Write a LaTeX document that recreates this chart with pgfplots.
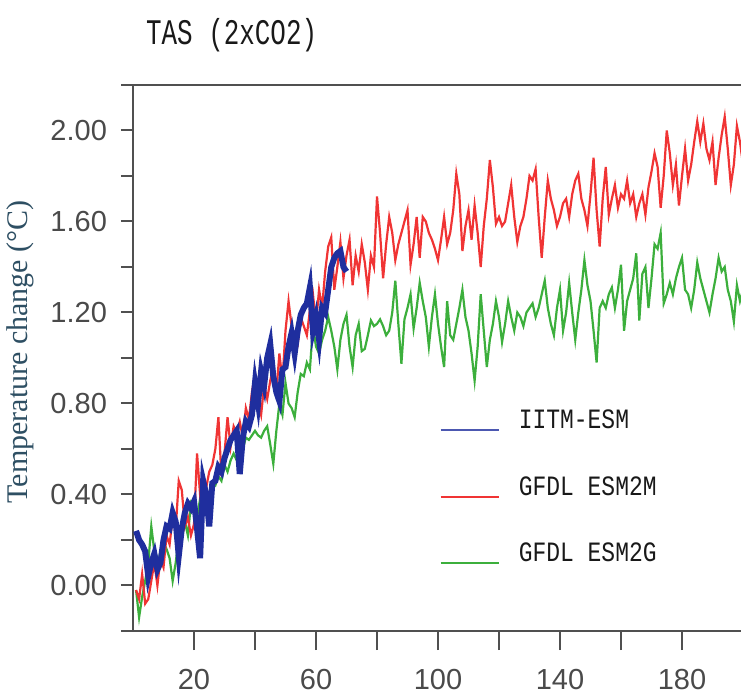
\documentclass[border=0pt]{standalone}
\usepackage{fontspec}
\setmainfont{Liberation Serif}
\newfontfamily\tickfont{Liberation Sans}
\newfontfamily\titlefont[FakeStretch=0.72]{Liberation Mono}
\newfontfamily\legfont[FakeStretch=0.82]{Liberation Mono}
\usepackage{pgfplots}
\pgfplotsset{compat=1.18}

\definecolor{esmblue}{HTML}{1F2E9E}
\definecolor{esmred}{HTML}{F03434}
\definecolor{esmgreen}{HTML}{3CAF3C}
\definecolor{axisgray}{HTML}{505050}
\definecolor{tickgray}{HTML}{4A4A4A}
\definecolor{labelteal}{HTML}{2E4F63}

\begin{document}
\begin{tikzpicture}
\begin{axis}[
  scale only axis, width=305pt, height=273pt,
  xmin=0, xmax=200, ymin=-0.2, ymax=2.2,
  xtick=\empty,
  extra x ticks={20,40,60,80,100,120,140,160,180,200},
  extra x tick labels={20,,60,,100,,140,,180,},
  extra x tick style={major tick length=9.5pt, tick style={axisgray, line width=1pt},
    xticklabel style={yshift=-6pt}},
  ytick={0,0.4,0.8,1.2,1.6,2.0}, minor ytick={0.2,0.6,1.0,1.4,1.8},
  tick pos=left, tick align=outside,
  major tick length=6pt, minor tick length=6pt,
  tick style={axisgray, line width=1pt},
  axis line style={axisgray, line width=1.1pt},
  /pgf/number format/assume math mode=true,
  ticklabel style={font=\tickfont\fontsize{14.5}{16}\selectfont, text=tickgray},
  yticklabel style={xshift=-3.5pt, /pgf/number format/fixed, /pgf/number format/fixed zerofill, /pgf/number format/precision=2},
  legend style={at={(rel axis cs:0.502,0.4025)}, anchor=north west, draw=none, fill=none,
    inner sep=0pt, row sep=23.5pt, font=\legfont\fontsize{14}{16}\selectfont, text=black!90,
    nodes={inner sep=0pt, text height=8.5pt, text depth=0pt},
    /tikz/every odd column/.append style={column sep=9.5pt}},
  legend cell align=left,
  legend image code/.code={\draw[#1] (0pt,-5pt) -- (29pt,-5pt);},
  reverse legend,
]
% GFDL ESM2G
\addplot[esmgreen, line width=1.1pt] coordinates {
(1,-0.02) (2,-0.14) (3,-0.05) (4,0.02) (5,0.10) (6,0.26) (7,0.15) (8,0.08) (9,0.15) (10,0.19)
(11,0.16) (12,0.12) (13,0.02) (14,0.10) (15,0.21) (16,0.25) (17,0.28) (18,0.22) (19,0.36) (20,0.33)
(21,0.30) (22,0.38) (23,0.35) (24,0.42) (25,0.40) (26,0.45) (27,0.44) (28,0.48) (29,0.46) (30,0.53)
(31,0.50) (32,0.55) (33,0.58) (34,0.55) (35,0.62) (36,0.60) (37,0.65) (38,0.64) (39,0.66) (40,0.68)
(41,0.66) (42,0.65) (43,0.68) (44,0.70) (45,0.62) (46,0.535) (47,0.68) (48,0.80) (49,0.75) (50,0.89)
(51,0.80) (52,0.78) (53,0.74) (54,0.85) (55,0.93) (56,0.92) (57,0.98) (58,0.95) (59,1.14) (60,1.05)
(61,1.02) (62,1.08) (63,1.12) (64,1.18) (65,1.12) (66,1.05) (67,0.95) (68,1.08) (69,1.15) (70,1.19)
(71,1.05) (72,0.96) (73,1.10) (74,1.15) (75,1.03) (76,1.04) (77,1.10) (78,1.165) (79,1.14) (80,1.15)
(81,1.17) (82,1.14) (83,1.10) (84,1.12) (85,1.20) (86,1.34) (87,1.15) (88,0.975) (89,1.17) (90,1.22)
(91,1.28) (92,1.13) (93,1.22) (94,1.33) (95,1.25) (96,1.18) (97,1.05) (98,1.18) (99,1.28) (100,1.15)
(101,1.05) (102,0.96) (103,1.25) (104,1.10) (105,1.08) (106,1.15) (107,1.22) (108,1.30) (109,1.18) (110,1.12)
(111,1.02) (112,0.90) (113,1.05) (114,1.28) (115,1.12) (116,0.96) (117,1.08) (118,1.15) (119,1.25) (120,1.18)
(121,1.07) (122,1.15) (123,1.25) (124,1.18) (125,1.12) (126,1.20) (127,1.18) (128,1.14) (129,1.20) (130,1.22)
(131,1.24) (132,1.18) (133,1.22) (134,1.28) (135,1.34) (136,1.22) (137,1.15) (138,1.10) (139,1.22) (140,1.30)
(141,1.12) (142,1.20) (143,1.33) (144,1.20) (145,1.08) (146,1.20) (147,1.30) (148,1.43) (149,1.32) (150,1.25)
(151,1.12) (152,0.98) (153,1.22) (154,1.25) (155,1.22) (156,1.28) (157,1.31) (158,1.22) (159,1.30) (160,1.41)
(161,1.12) (162,1.25) (163,1.30) (164,1.35) (165,1.46) (166,1.165) (167,1.37) (168,1.40) (169,1.22) (170,1.35)
(171,1.50) (172,1.48) (173,1.55) (174,1.24) (175,1.28) (176,1.33) (177,1.28) (178,1.35) (179,1.40) (180,1.44)
(181,1.30) (182,1.28) (183,1.22) (184,1.30) (185,1.42) (186,1.35) (187,1.30) (188,1.25) (189,1.20) (190,1.28)
(191,1.35) (192,1.44) (193,1.38) (194,1.40) (195,1.30) (196,1.25) (197,1.16) (198,1.32) (199,1.25) (200,1.30)
};
\addlegendentry{GFDL ESM2G}
% GFDL ESM2M
\addplot[esmred, line width=1.1pt] coordinates {
(1,-0.02) (2,-0.06) (3,0.05) (4,-0.08) (5,-0.06) (6,0.02) (7,0.10) (8,0.00) (9,0.12) (10,0.08)
(11,0.22) (12,0.18) (13,0.30) (14,0.25) (15,0.46) (16,0.42) (17,0.26) (18,0.30) (19,0.22) (20,0.27)
(21,0.58) (22,0.40) (23,0.45) (24,0.43) (25,0.50) (26,0.53) (27,0.60) (28,0.74) (29,0.48) (30,0.58)
(31,0.74) (32,0.61) (33,0.70) (34,0.67) (35,0.72) (36,0.65) (37,0.78) (38,0.73) (39,0.85) (40,0.93)
(41,0.81) (42,0.75) (43,0.88) (44,0.82) (45,0.90) (46,0.96) (47,0.85) (48,1.02) (49,0.90) (50,1.12)
(51,1.25) (52,1.14) (53,1.08) (54,1.06) (55,1.18) (56,1.14) (57,1.10) (58,1.21) (59,1.28) (60,1.15)
(61,1.30) (62,1.22) (63,1.38) (64,1.49) (65,1.53) (66,1.30) (67,1.40) (68,1.51) (69,1.35) (70,1.45)
(71,1.52) (72,1.32) (73,1.45) (74,1.38) (75,1.50) (76,1.42) (77,1.30) (78,1.45) (79,1.40) (80,1.71)
(81,1.55) (82,1.35) (83,1.50) (84,1.62) (85,1.55) (86,1.43) (87,1.50) (88,1.55) (89,1.60) (90,1.65)
(91,1.41) (92,1.50) (93,1.62) (94,1.44) (95,1.62) (96,1.60) (97,1.55) (98,1.52) (99,1.48) (100,1.43)
(101,1.52) (102,1.62) (103,1.50) (104,1.55) (105,1.65) (106,1.81) (107,1.72) (108,1.47) (109,1.58) (110,1.65)
(111,1.52) (112,1.67) (113,1.55) (114,1.40) (115,1.58) (116,1.70) (117,1.87) (118,1.75) (119,1.59) (120,1.62)
(121,1.58) (122,1.60) (123,1.68) (124,1.76) (125,1.62) (126,1.51) (127,1.58) (128,1.62) (129,1.70) (130,1.80)
(131,1.78) (132,1.83) (133,1.62) (134,1.44) (135,1.62) (136,1.78) (137,1.70) (138,1.65) (139,1.58) (140,1.62)
(141,1.68) (142,1.70) (143,1.62) (144,1.72) (145,1.78) (146,1.81) (147,1.70) (148,1.65) (149,1.58) (150,1.72)
(151,1.88) (152,1.65) (153,1.49) (154,1.70) (155,1.84) (156,1.63) (157,1.70) (158,1.76) (159,1.66) (160,1.72)
(161,1.70) (162,1.78) (163,1.68) (164,1.72) (165,1.62) (166,1.68) (167,1.72) (168,1.63) (169,1.75) (170,1.82)
(171,1.90) (172,1.84) (173,1.66) (174,1.80) (175,2.00) (176,1.90) (177,1.76) (178,1.85) (179,1.67) (180,1.80)
(181,1.92) (182,1.78) (183,1.85) (184,1.95) (185,2.04) (186,1.95) (187,2.03) (188,1.92) (189,1.87) (190,1.95)
(191,1.76) (192,1.88) (193,1.98) (194,2.06) (195,1.92) (196,1.76) (197,1.85) (198,2.02) (199,1.95) (200,1.85)
};
\addlegendentry{GFDL ESM2M}
% IITM-ESM
\addplot[esmblue, line width=3pt, forget plot] coordinates {
(1,0.24) (2,0.20) (3,0.18) (4,0.15) (5,0.04) (6,0.10) (7,0.14) (8,0.07) (9,0.10) (10,0.20)
(11,0.26) (12,0.25) (13,0.32) (14,0.28) (15,0.13) (16,0.25) (17,0.32) (18,0.36) (19,0.34) (20,0.37)
(21,0.25) (22,0.12) (23,0.46) (24,0.40) (25,0.26) (26,0.45) (27,0.46) (28,0.52) (29,0.50) (30,0.56)
(31,0.60) (32,0.64) (33,0.66) (34,0.68) (35,0.49) (36,0.65) (37,0.72) (38,0.70) (39,0.75) (40,0.89)
(41,0.80) (42,0.94) (43,0.88) (44,1.00) (45,1.06) (46,0.92) (47,0.85) (48,0.81) (49,0.95) (50,0.96)
(51,1.05) (52,1.11) (53,1.02) (54,1.12) (55,1.19) (56,1.22) (57,1.24) (58,1.31) (59,1.12) (60,1.18)
(61,1.08) (62,1.22) (63,1.20) (64,1.30) (65,1.40) (66,1.44) (67,1.46) (68,1.47) (69,1.40) (70,1.38)
};
\addlegendimage{esmblue!80!white, line width=1pt}
\addlegendentry{IITM-ESM}
\end{axis}
\draw[axisgray, line width=1.1pt] ([xshift=-6pt]current axis.south west) -- (current axis.south west);
\draw[axisgray, line width=1.1pt] ([xshift=-6pt]current axis.north west) -- (current axis.north west);
\node[anchor=base west, font=\titlefont\fontsize{18}{20}\selectfont, text=black!90]
  at ([xshift=3pt,yshift=20pt]current axis.north west) {TAS (2xCO2)};
\node[rotate=90, anchor=center, font=\fontsize{15}{17}\selectfont, text=labelteal]
  at ([xshift=-56.5pt,yshift=3pt]current axis.west) {Temperature change (°C)};
\pgfresetboundingbox
\path[use as bounding box] ([xshift=-66.5pt,yshift=-31pt]current axis.south west)
  rectangle ([xshift=-1pt,yshift=42.5pt]current axis.north east);
\end{tikzpicture}
\end{document}
